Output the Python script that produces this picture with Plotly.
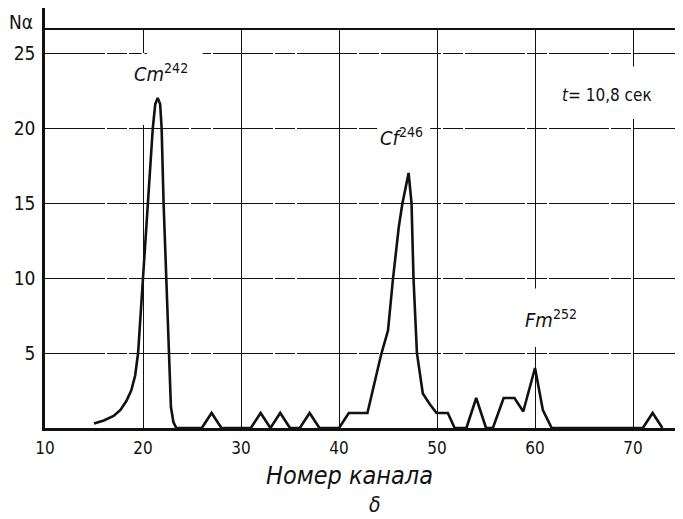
import plotly.graph_objects as go

# ---- data ----
channel = [15, 16, 17, 17.7, 18.3, 18.8, 19.2, 19.5, 20, 20.5, 21, 21.25, 21.5, 21.75,
           21.9, 22.1, 22.4, 22.7, 22.85, 23.1, 23.4,
           26, 27, 28, 31, 32, 33, 34, 35, 36, 37, 38,
           40, 41, 42.9, 44.3, 45.0, 45.5, 46.1, 46.45, 47.1, 47.4, 47.6, 47.95,
           48.55, 49.25, 49.95, 51.1, 51.8,
           53, 54, 55, 55.7, 56.8, 57.9, 58.8, 60, 60.8, 61.7,
           71, 72, 73]
counts = [0.3, 0.5, 0.8, 1.2, 1.8, 2.5, 3.5, 5, 10, 15, 20, 21.6, 22, 21.6,
          20, 15, 10, 5, 1.4, 0.4, 0,
          0, 1, 0, 0, 1, 0, 1, 0, 0, 1, 0,
          0, 1, 1, 4.9, 6.5, 9.9, 13.4, 14.9, 17, 15, 10, 5,
          2.3, 1.6, 1, 1, 0,
          0, 2, 0, 0, 2, 2, 1.1, 4, 1.2, 0,
          0, 1, 0]

x_ticks = [10, 20, 30, 40, 50, 60, 70]
y_ticks = [5, 10, 15, 20, 25]

peak_labels = ["<i>Cm</i><sup>242</sup>",
               "<i>Cf</i><sup>246</sup>",
               "<i>Fm</i><sup>252</sup>"]
peak_x = [21.8, 46.4, 61.6]
peak_y = [23.7, 19.4, 7.3]

X_RANGE = [10, 75.1]
Y_RANGE = [0, 28]
TOP_LINE = 26.6

FONT = "DejaVu Sans Condensed"
INK = "#111111"

fig = go.Figure()
fig.add_trace(go.Scatter(x=channel, y=counts, mode="lines",
                         line=dict(color=INK, width=2.6),
                         hoverinfo="skip", showlegend=False))

# white patches that break the grid behind the labels
gaps = [
    (20.4, 26.1, 24.9, 25.1),
    (19.85, 20.15, 20.2, 25.0),
    (43.9, 49.3, 19.8, 20.2),
    (69.8, 70.2, 20.6, 24.1),
    (59.8, 60.2, 5.4, 9.3),
    (10.05, 75.1, TOP_LINE + 0.05, 28.2),
]
for x0, x1, y0, y1 in gaps:
    fig.add_shape(type="rect", xref="x", yref="y", x0=x0, x1=x1, y0=y0, y1=y1,
                  fillcolor="white", line=dict(width=0), layer="between")

fig.add_shape(type="line", xref="x", yref="y", x0=X_RANGE[0], x1=X_RANGE[1],
              y0=TOP_LINE, y1=TOP_LINE, line=dict(color=INK, width=2), layer="above")

def note(text, x, y, size, ref="x"):
    fig.add_annotation(x=x, y=y, xref=ref, yref="y" if ref == "x" else "paper",
                       text=text, showarrow=False, xanchor="center", yanchor="middle",
                       font=dict(family=FONT, size=size, color=INK))

for lab, xx, yy in zip(peak_labels, peak_x, peak_y):
    note(lab, xx, yy, 20)

note("<i>t</i>= 10,8 сек", 67.3, 22.2, 17)
note("Nα", -0.038, 0.967, 19, ref="paper")
note("<i>Номер канала</i>", 0.4765, -0.112, 25, ref="paper")
note("<i>δ</i>", 0.517, -0.183, 21, ref="paper")

fig.update_xaxes(range=X_RANGE, tickvals=x_ticks, ticktext=[str(v) for v in x_ticks],
                 showgrid=True, gridcolor=INK, gridwidth=1.3,
                 showline=True, linecolor=INK, linewidth=2.6,
                 ticks="", ticklabelstandoff=3, zeroline=False,
                 tickfont=dict(family=FONT, size=17, color=INK))
fig.update_yaxes(range=Y_RANGE, tickvals=y_ticks, ticktext=[str(v) for v in y_ticks],
                 showgrid=True, gridcolor=INK, gridwidth=1.2, griddash="60px,2px,20px,2px",
                 showline=True, linecolor=INK, linewidth=2.6,
                 ticks="", ticklabelstandoff=3, zeroline=False,
                 tickfont=dict(family=FONT, size=19, color=INK))

# the page adds an 8px body margin, so the figure is sized to fit the window
fig.update_layout(width=675, height=511,
                  margin=dict(l=37, r=0, t=0, b=91, autoexpand=False),
                  paper_bgcolor="white", plot_bgcolor="white",
                  showlegend=False)

fig.write_html("out.html")
